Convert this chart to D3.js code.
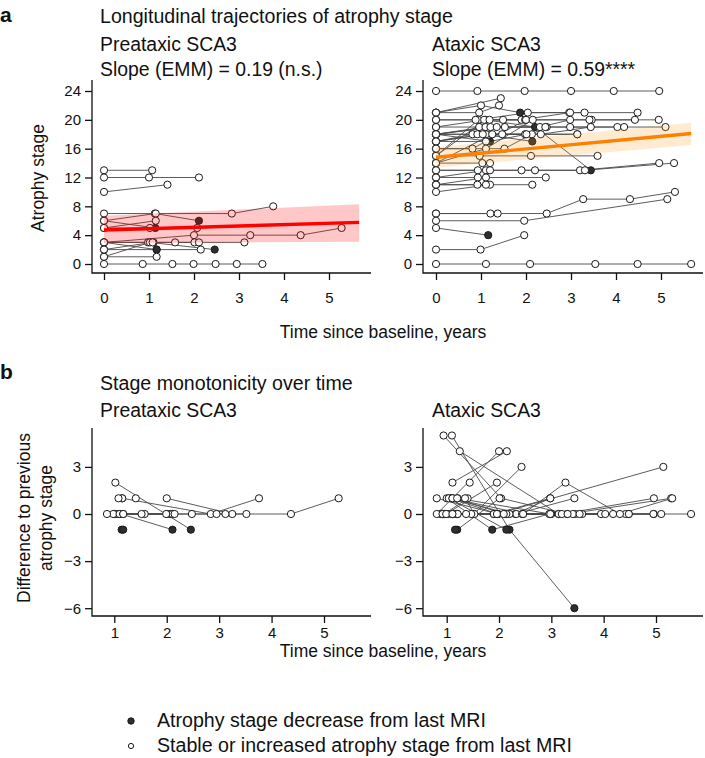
<!DOCTYPE html>
<html><head><meta charset="utf-8">
<script src="https://cdn.jsdelivr.net/npm/d3@7"></script>
<style>
body{margin:0;background:#fff}
text{font-family:"Liberation Sans",Arial,Helvetica,sans-serif;fill:#111}
</style>
</head><body>
<svg id="chart" width="705" height="758"></svg>
<script>
// ---------------- DATA ----------------
// Individual trajectories: [time since baseline (years), atrophy stage]
const preataxicTrajectories = [
  [[0,13],[1.07,13]],
  [[0,12],[1.0,12],[2.11,12]],
  [[0,10],[1.41,11]],
  [[0,7],[1.13,7],[2.11,6]],
  [[0,6],[1.15,7],[2.84,7],[3.76,8]],
  [[0,6],[1.14,5]],
  [[0,5],[1.02,5],[2.07,5]],
  [[0,5],[1.15,6]],
  [[0,3],[2.0,4],[3.25,4],[4.37,4],[5.28,5]],
  [[0,3],[0.98,3],[2.01,3]],
  [[0,3],[1.1,3],[1.58,3],[2.11,3],[3.12,3]],
  [[0,2],[1.17,2],[2.15,2]],
  [[0,3],[1.17,2]],
  [[0,1],[1.02,3],[2.46,2]],
  [[0,1],[1.17,1]],
  [[0,2],[1.08,3]],
  [[0,0],[0.86,0],[1.52,0],[1.99,0],[2.48,0],[2.95,0],[3.52,0]]
];
const ataxicTrajectories = [
  [[0,24],[0.92,24],[1.97,24],[3.0,24],[3.95,24],[4.96,24]],
  [[0,21],[1.0,22],[1.87,21],[2.96,21],[4.48,21]],
  [[0,21],[1.44,23]],
  [[0,21],[0.96,21],[1.4,22]],
  [[0,15],[1.1,20],[2.2,19],[3.44,13]],
  [[0,15],[0.94,20],[2.04,21],[3.3,21]],
  [[0,20],[0.88,20],[1.9,20],[2.98,21]],
  [[0,19],[1.07,20],[1.98,20],[3.46,20],[4.95,20]],
  [[0,20],[1.19,20],[1.49,20],[3.41,20],[4.42,20]],
  [[0,19],[0.96,19],[2.31,19],[2.98,20]],
  [[0,18],[1.1,19],[2.46,19],[4.03,19],[5.1,19]],
  [[0,16],[1.52,16],[2.43,19]],
  [[0,18],[1.21,19],[2.98,19],[4.18,19]],
  [[0,18],[1.35,19],[1.53,19]],
  [[0,17],[0.81,18],[1.98,18],[3.14,18]],
  [[0,18],[0.92,18],[2.33,18],[3.44,19]],
  [[0,17],[1.11,18],[2.13,18]],
  [[0,18],[1.47,18]],
  [[0,17],[1.04,18],[2.14,17]],
  [[0,18],[1.2,17],[2.01,18]],
  [[0,17],[1.11,17]],
  [[0,16],[0.81,16],[2.0,20]],
  [[0,14],[1.11,16],[2.15,20]],
  [[0,15],[0.97,15],[2.11,15],[3.59,15]],
  [[0,14],[1.25,18],[3.14,18]],
  [[0,14],[1.03,14],[1.2,14]],
  [[0,13],[0.93,13],[1.9,13],[3.2,13],[4.96,14]],
  [[0,12],[1.11,13],[2.2,13],[3.31,13],[5.29,14]],
  [[0,13],[1.2,13]],
  [[0,12],[0.93,12],[2.44,12]],
  [[0,11],[1.11,12]],
  [[0,11],[0.92,11],[2.14,11]],
  [[0,10],[1.2,11]],
  [[0,11],[1.11,11]],
  [[0,7],[1.21,7],[2.46,7],[3.27,9],[4.31,9],[5.31,10]],
  [[0,7],[1.37,7]],
  [[0,6],[1.96,6],[5.14,9]],
  [[0,5],[1.16,4]],
  [[0,2],[0.99,2],[1.96,4]],
  [[0,0],[1.11,0],[2.09,0],[3.54,0],[4.48,0],[5.67,0]]
];
// Model fits (EMM): line and confidence band at start / end of follow-up
const fitTimes = [0, 5.67];
const preFit = [4.72, 5.78];
const preLower = [2.9, 3.1];
const preUpper = [6.7, 8.3];
const ataxFit = [14.8, 18.1];
const ataxLower = [13.4, 16.5];
const ataxUpper = [16.2, 19.6];

const stageTicks = [0, 4, 8, 12, 16, 20, 24];
const timeTicksTop = [0, 1, 2, 3, 4, 5];
const diffTicks = [-6, -3, 0, 3];
const timeTicksBottom = [1, 2, 3, 4, 5];
const groupNames = ["Preataxic SCA3", "Ataxic SCA3"];
const slopeLabels = ["Slope (EMM) = 0.19 (n.s.)", "Slope (EMM) = 0.59****"];
const legendLabels = ["Atrophy stage decrease from last MRI", "Stable or increased atrophy stage from last MRI"];

// ---------------- DRAWING ----------------
const svg = d3.select("#chart");
const LINE = "#4a4a4a", STROKE = "#1a1a1a", FILLED = "#2e2e2e";
const R = 3.6;
const fmt = d3.format("d");

function frame(g, x, y, left, right, top, bottom, xt, yt, xPad) {
  g.append("path").attr("d", `M${left},${top}V${bottom}H${right}`)
    .attr("fill","none").attr("stroke","#111").attr("stroke-width",1.3);
  const ax = g.append("g").attr("transform",`translate(0,${bottom})`)
    .call(d3.axisBottom(x).tickValues(xt).tickFormat(fmt).tickSize(7).tickSizeOuter(0).tickPadding(xPad));
  const ay = g.append("g").attr("transform",`translate(${left},0)`)
    .call(d3.axisLeft(y).tickValues(yt).tickFormat(fmt).tickSize(7).tickSizeOuter(0).tickPadding(4));
  [ax, ay].forEach(a => {
    a.select(".domain").remove();
    a.selectAll("line").attr("stroke","#111").attr("stroke-width",1.3);
    a.selectAll("text").attr("font-size",15).attr("fill","#111")
      .style("font-family","'Liberation Sans',Arial,sans-serif");
  });
}

function trajectories(g, data, x, y) {
  const line = d3.line().x(d => x(d[0])).y(d => y(d[1]));
  g.append("g").selectAll("path").data(data).join("path")
    .attr("d", line).attr("fill","none").attr("stroke",LINE).attr("stroke-width",0.9);
  const pts = [];
  data.forEach(s => s.forEach((p,i) => pts.push({t:p[0], v:p[1], dec: i>0 && p[1] < s[i-1][1]})));
  g.append("g").selectAll("circle").data(pts).join("circle")
    .attr("cx", d => x(d.t)).attr("cy", d => y(d.v)).attr("r", R)
    .attr("fill", d => d.dec ? FILLED : "#fff")
    .attr("stroke", STROKE).attr("stroke-width", 1);
}

function diffs(data) {
  return data.filter(s => s.length > 1).map(s =>
    s.slice(1).map((p,i) => [p[0], p[1] - s[i][1]]));
}

// Panel geometry
const topY = d3.scaleLinear().domain([0,24]).range([264,91]);
const topX = [d3.scaleLinear().domain([0,5]).range([104,329]),
              d3.scaleLinear().domain([0,5]).range([436,661])];
const botY = d3.scaleLinear().domain([0,3]).range([514,466.9]);
const botX = [d3.scaleLinear().domain([1,5]).range([114.3,324]),
              d3.scaleLinear().domain([1,5]).range([446.7,656])];
const axisLeftX = [92, 423], axisRightX = [371, 703];

const trajSets = [preataxicTrajectories, ataxicTrajectories];
const fits = [[preFit, preLower, preUpper, "#ff0000", "#ff0000"],
              [ataxFit, ataxLower, ataxUpper, "#ff8000", "#ff9a1f"]];
const TITLE = 19.6, SUB = 19.4;

for (let k = 0; k < 2; k++) {
  // ---- top: trajectories
  const g = svg.append("g");
  const x = topX[k];
  frame(g, x, topY, axisLeftX[k], axisRightX[k], 80, 273, timeTicksTop, stageTicks, 12);
  trajectories(g, trajSets[k], x, topY);
  const [fit, lo, up, col, bandCol] = fits[k];
  const bandData = fitTimes.map((t,i) => ({t, lo: lo[i], up: up[i]}));
  g.append("path").datum(bandData)
    .attr("d", d3.area().x(d => x(d.t)).y0(d => topY(d.lo)).y1(d => topY(d.up)))
    .attr("fill", bandCol).attr("fill-opacity", k === 0 ? 0.22 : 0.2);
  g.append("path").datum(fitTimes.map((t,i) => [t, fit[i]]))
    .attr("d", d3.line().x(d => x(d[0])).y(d => topY(d[1])))
    .attr("stroke", col).attr("stroke-width", 3.4).attr("fill","none");
  const tx = k === 0 ? 100 : 432;
  g.append("text").attr("x", tx).attr("y", 51).attr("font-size", SUB).text(groupNames[k]);
  g.append("text").attr("x", tx).attr("y", 76).attr("font-size", SUB).text(slopeLabels[k]);

  // ---- bottom: stage monotonicity
  const gb = svg.append("g");
  const xb = botX[k];
  frame(gb, xb, botY, axisLeftX[k], axisRightX[k], 428, 616, timeTicksBottom, diffTicks, 4);
  const dd = diffs(trajSets[k]);
  const line = d3.line().x(d => xb(d[0])).y(d => botY(d[1]));
  gb.append("g").selectAll("path").data(dd.filter(s => s.length > 1)).join("path")
    .attr("d", line).attr("fill","none").attr("stroke",LINE).attr("stroke-width",0.9);
  gb.append("g").selectAll("circle").data(dd.flat()).join("circle")
    .attr("cx", d => xb(d[0])).attr("cy", d => botY(d[1])).attr("r", R)
    .attr("fill", d => d[1] < 0 ? FILLED : "#fff")
    .attr("stroke", STROKE).attr("stroke-width", 1);
  gb.append("text").attr("x", tx).attr("y", 417).attr("font-size", SUB).text(groupNames[k]);
}

// Titles and labels
svg.append("text").attr("x", 0).attr("y", 22).attr("font-size", 21).attr("font-weight","bold").text("a");
svg.append("text").attr("x", 100).attr("y", 23).attr("font-size", TITLE).text("Longitudinal trajectories of atrophy stage");
svg.append("text").attr("x", 0).attr("y", 379).attr("font-size", 21).attr("font-weight","bold").text("b");
svg.append("text").attr("x", 100).attr("y", 390).attr("font-size", TITLE).text("Stage monotonicity over time");

svg.append("text").attr("transform","translate(44,178) rotate(-90)").attr("text-anchor","middle")
  .attr("font-size", 17.5).text("Atrophy stage");
svg.append("text").attr("transform","translate(30,518) rotate(-90)").attr("text-anchor","middle")
  .attr("font-size", 17.5).text("Difference to previous");
svg.append("text").attr("transform","translate(52,518) rotate(-90)").attr("text-anchor","middle")
  .attr("font-size", 17.5).text("atrophy stage");
svg.append("text").attr("x", 383).attr("y", 338).attr("text-anchor","middle").attr("font-size", 17.5)
  .text("Time since baseline, years");
svg.append("text").attr("x", 383).attr("y", 657).attr("text-anchor","middle").attr("font-size", 17.5)
  .text("Time since baseline, years");

// Legend
const lg = svg.append("g");
legendLabels.forEach((lab, i) => {
  const cy = 721 + i * 25;
  lg.append("circle").attr("cx", 131).attr("cy", cy).attr("r", i === 0 ? 3.2 : 2.6)
    .attr("fill", i === 0 ? FILLED : "#fff").attr("stroke", STROKE).attr("stroke-width", 1);
  lg.append("text").attr("x", 157).attr("y", cy + 6).attr("font-size", 19.6).text(lab);
});
</script>
</body></html>
